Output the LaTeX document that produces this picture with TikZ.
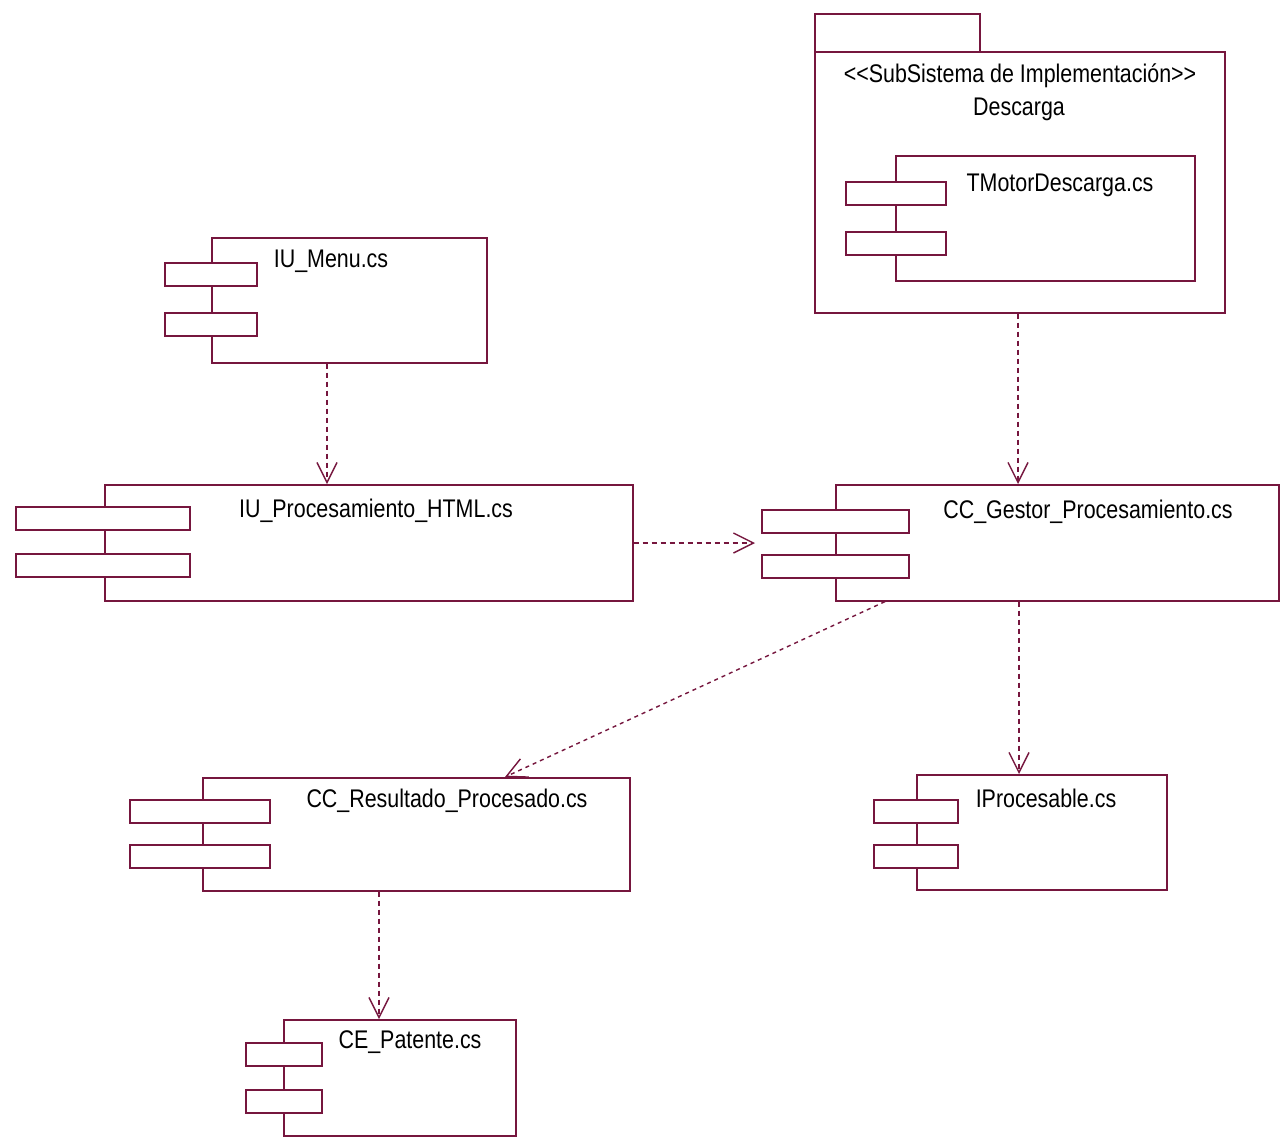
\documentclass[tikz,border=0pt]{standalone}
\usepackage{fontspec}
\setmainfont[FakeStretch=0.84]{Liberation Sans}
\usetikzlibrary{arrows.meta,calc}
\definecolor{umlline}{RGB}{118,22,62}

% component: name, left, top, width, height, port left, port width, port1 top, port2 top
\newcommand\umlcomp[9]{%
  \node[box,minimum width=#4pt,minimum height=#5pt] (#1) at (#2,#3) {};
  \node[box,minimum width=#7pt,minimum height=23pt] (#1-a) at (#6,#8) {};
  \node[box,minimum width=#7pt,minimum height=23pt] (#1-b) at (#6,#9) {};
}

\begin{document}
\begin{tikzpicture}[x=1pt,y=-1pt,
  box/.style={draw=umlline,line width=1.6pt,fill=white,rectangle,inner sep=0pt,anchor=north west},
  compname/.style={font=\fontsize{25.5}{28}\selectfont,text=black,anchor=base,inner sep=0pt},
  dep/.style={draw=umlline,line width=1.4pt,dash pattern=on 5pt off 4pt,
    -{Straight Barb[length=20pt,width=20pt,line width=1.4pt]}}]

\useasboundingbox[fill=white] (0,0) rectangle (1281,1136);

% implementation subsystem package
\node[box,minimum width=165pt,minimum height=38pt] (pkg-tab) at (814,13) {};
\node[box,minimum width=410pt,minimum height=261pt] (pkg) at (814,51) {};
\node[compname] (pkg-st) at (1020,82) {<\kern0pt<SubSistema de Implementación>\kern0pt>};
\node[compname] (pkg-name) at (1019,115) {Descarga};

% components
\umlcomp{tmotor}{895}{155}{299}{125}{845}{100}{181}{231}
\node[compname] (tmotor-t) at (1060,191) {TMotorDescarga.cs};

\umlcomp{menu}{211}{237}{275}{125}{164}{92}{262}{312}
\node[compname] (menu-t) at (331,267) {IU\_Menu.cs};

\umlcomp{proc}{104}{484}{528}{116}{15}{174}{506}{553}
\node[compname] (proc-t) at (376,517) {IU\_Procesamiento\_HTML.cs};

\umlcomp{gestor}{835}{484}{443}{116}{761}{147}{509}{554}
\node[compname] (gestor-t) at (1088,518) {CC\_Gestor\_Procesamiento.cs};

\umlcomp{result}{202}{777}{427}{113}{129}{140}{799}{844}
\node[compname] (result-t) at (447,807) {CC\_Resultado\_Procesado.cs};

\umlcomp{iproc}{916}{774}{250}{115}{873}{84}{799}{844}
\node[compname] (iproc-t) at (1046,807) {IProcesable.cs};

\umlcomp{patente}{283}{1019}{232}{116}{245}{76}{1042}{1089}
\node[compname] (patente-t) at (410,1048) {CE\_Patente.cs};

% dependencies
\draw[dep] ($(menu.south west)+(116,0)$) -- ($(proc.north west)+(223,0)$);
\draw[dep] ($(pkg.south west)+(204,0)$) -- ($(gestor.north west)+(183,0)$);
\draw[dep] ($(proc.north east)+(0,59)$) -- ($(gestor-a.north west)+(-6,34)$);
\draw[dep,dash pattern=on 4pt off 4pt] ($(gestor.south west)+(50,0)$) -- ($(result.north west)+(303,0)$);
\draw[dep] ($(gestor.south west)+(184,0)$) -- ($(iproc.north west)+(103,0)$);
\draw[dep] ($(result.south west)+(177,0)$) -- ($(patente.north west)+(96,0)$);
\end{tikzpicture}
\end{document}
